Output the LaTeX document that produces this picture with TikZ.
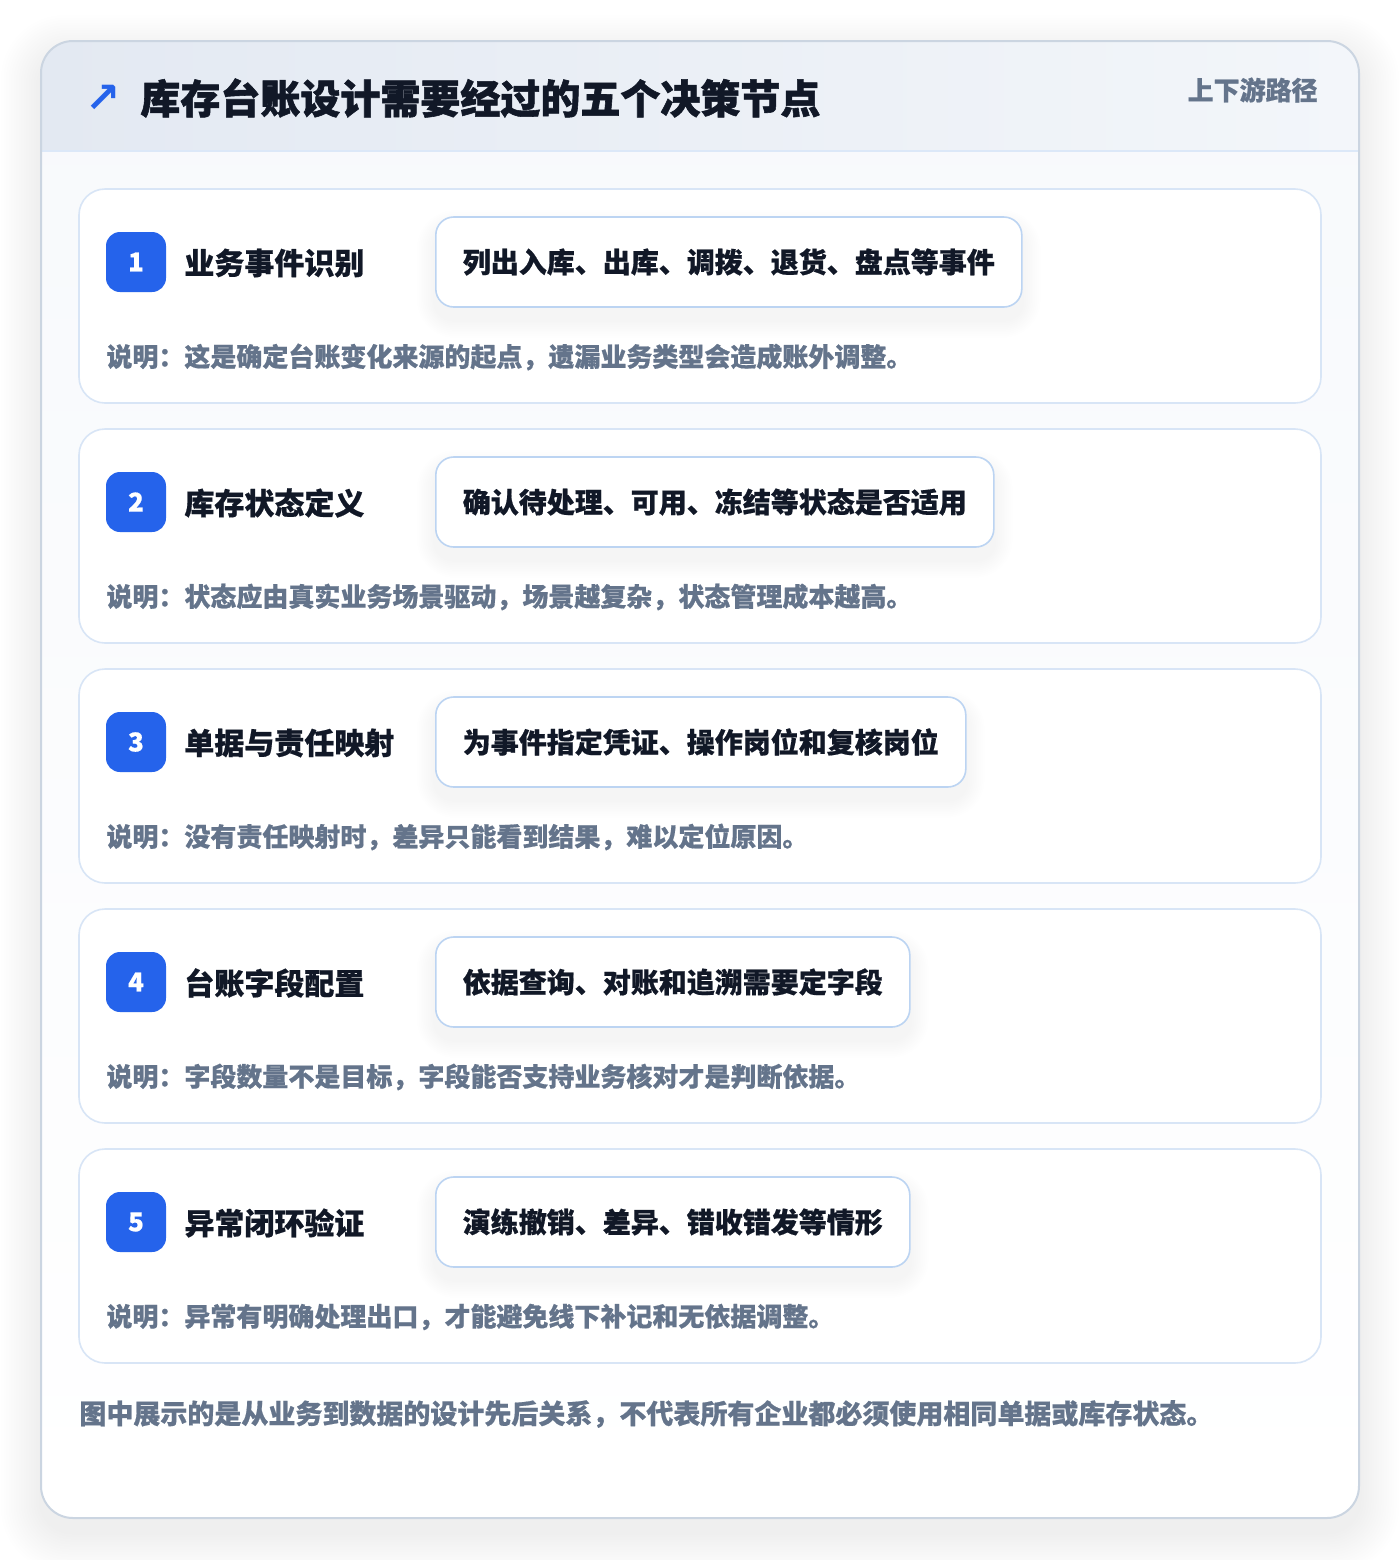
\documentclass[tikz,border=0pt]{standalone}
\usepackage{fontspec}
\setmainfont{Noto Sans CJK SC}[BoldFeatures={FakeBold=0.6}]
\newfontfamily\titlefont{Noto Sans CJK SC}[BoldFeatures={FakeBold=1.4}]
\newfontfamily\symfont{DejaVu Sans}
\pgfdeclarelayer{bg}
\pgfdeclarelayer{mid}
\pgfsetlayers{bg,mid,main}
\definecolor{pagebg}{HTML}{FFFFFF}
\definecolor{cardborder}{HTML}{CBD5E1}
\definecolor{cardtop}{HTML}{F7F9FC}
\definecolor{headl}{HTML}{E3E9F2}
\definecolor{headr}{HTML}{F3F6FA}
\definecolor{headline}{HTML}{DCE8F8}
\definecolor{stepborder}{HTML}{D8E5F6}
\definecolor{pillborder}{HTML}{BCD4F2}
\definecolor{badgeblue}{HTML}{2563EB}
\definecolor{titlec}{HTML}{111827}
\definecolor{mutedc}{HTML}{64748B}
\tikzset{
  stepcard/.style={draw=stepborder, line width=0.8pt, fill=white, rounded corners=13pt},
  badge/.style={fill=badgeblue, rounded corners=7pt, minimum size=30pt, inner sep=0pt,
    text=white, font=\bfseries\fontsize{13}{15}\selectfont},
  steptitle/.style={anchor=west, inner sep=0pt, text=titlec, font=\bfseries\fontsize{15}{18}\selectfont},
  pill/.style={anchor=west, draw=pillborder, line width=0.8pt, fill=white, rounded corners=9pt,
    minimum height=45pt, inner xsep=13.5pt, inner ysep=0pt, text=titlec,
    font=\bfseries\fontsize{14}{17}\selectfont},
  desc/.style={anchor=west, inner sep=0pt, text=mutedc, font=\bfseries\fontsize{13}{16}\selectfont},
}
\begin{document}
\begin{tikzpicture}[x=0.5pt,y=-0.5pt]
\useasboundingbox (0,0) rectangle (1400,1560);
\begin{pgfonlayer}{bg}
\fill[pagebg] (0,0) rectangle (1400,1560);
% soft shadow of the main card
\foreach \i in {1,...,16} {
  \pgfmathsetmacro\rr{16+\i}
  \fill[black, opacity=0.0045, rounded corners=\rr pt]
    (41-\i*2.5, 41-\i*2.5+14) rectangle (1359+\i*2.5, 1518+\i*2.5+14);
}
% main card
\fill[top color=cardtop, bottom color=white, rounded corners=16pt] (41,41) rectangle (1359,1518);
\begin{scope}
  \clip[rounded corners=16pt] (41,41) rectangle (1359,1518);
  \fill[left color=headl, right color=headr] (41,41) rectangle (1359,151);
  \draw[headline, line width=1pt] (41,151) -- (1359,151);
\end{scope}
\draw[cardborder, line width=1pt, rounded corners=16pt] (41,41) rectangle (1359,1518);
% step cards
\foreach \k in {0,...,4} {
  \pgfmathsetmacro\yy{189+240*\k}
  \draw[stepcard] (79,\yy) rectangle (1321,\yy+214);
}
\end{pgfonlayer}

% header
\node[text=badgeblue, font=\symfont\bfseries\fontsize{21}{24}\selectfont, inner sep=0pt] (icon) at (103,99) {↗};
\node[anchor=west, inner sep=0pt, text=titlec, font=\titlefont\bfseries\fontsize{20}{24}\selectfont] (title) at (140,98) {库存台账设计需要经过的五个决策节点};
\node[anchor=east, inner sep=0pt, text=mutedc, font=\bfseries\fontsize{13}{16}\selectfont] (tag) at (1318,90) {上下游路径};

% steps
\foreach \n/\t/\p/\d [count=\c from 0] in {
  1/业务事件识别/列出入库、出库、调拨、退货、盘点等事件/说明：这是确定台账变化来源的起点，遗漏业务类型会造成账外调整。,
  2/库存状态定义/确认待处理、可用、冻结等状态是否适用/说明：状态应由真实业务场景驱动，场景越复杂，状态管理成本越高。,
  3/单据与责任映射/为事件指定凭证、操作岗位和复核岗位/说明：没有责任映射时，差异只能看到结果，难以定位原因。,
  4/台账字段配置/依据查询、对账和追溯需要定字段/说明：字段数量不是目标，字段能否支持业务核对才是判断依据。,
  5/异常闭环验证/演练撤销、差异、错收错发等情形/说明：异常有明确处理出口，才能避免线下补记和无依据调整。} {
  \pgfmathsetmacro\yy{189+240*\c}
  \node[badge] (b\n) at (136,\yy+73) {\n};
  \node[steptitle] (t\n) at (184,\yy+74) {\t};
  \node[pill] (p\n) at (435,\yy+73) {\p};
  \node[desc] (d\n) at (106,\yy+168) {\d};
  \begin{pgfonlayer}{mid}
    \foreach \i in {1,...,10} {
      \pgfmathsetmacro\rs{9+\i}
      \fill[black, opacity=0.0055, rounded corners=\rs pt]
        ([shift={(-\i*1.8,-\i*1.8+12)}]p\n.north west) rectangle ([shift={(\i*1.8,\i*1.8+12)}]p\n.south east);
    }
  \end{pgfonlayer}
}

% footer note
\node[anchor=west, inner sep=0pt, text=mutedc, font=\bfseries\fontsize{13.5}{16}\selectfont] (note) at (79,1414) {图中展示的是从业务到数据的设计先后关系，不代表所有企业都必须使用相同单据或库存状态。};
\end{tikzpicture}
\end{document}
